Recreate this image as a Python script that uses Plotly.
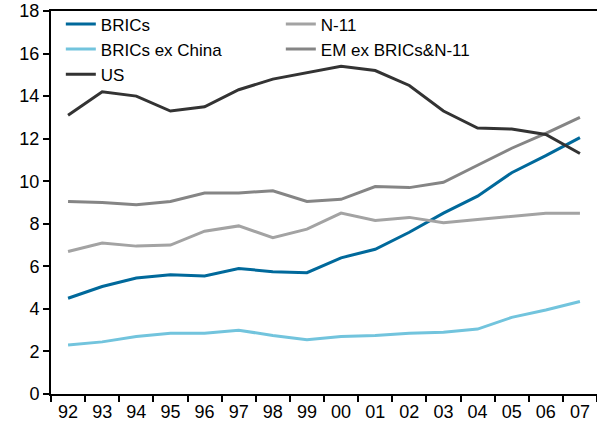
import plotly.graph_objects as go

years = ["92", "93", "94", "95", "96", "97", "98", "99",
         "00", "01", "02", "03", "04", "05", "06", "07"]

brics = [4.5, 5.05, 5.45, 5.6, 5.55, 5.9, 5.75, 5.7,
         6.4, 6.8, 7.6, 8.5, 9.3, 10.4, 11.2, 12.05]
n11 = [6.7, 7.1, 6.95, 7.0, 7.65, 7.9, 7.35, 7.75,
       8.5, 8.15, 8.3, 8.05, 8.2, 8.35, 8.5, 8.5]
brics_ex_china = [2.3, 2.45, 2.7, 2.85, 2.85, 3.0, 2.75, 2.55,
                  2.7, 2.75, 2.85, 2.9, 3.05, 3.6, 3.95, 4.35]
em_ex = [9.05, 9.0, 8.9, 9.05, 9.45, 9.45, 9.55, 9.05,
         9.15, 9.75, 9.7, 9.95, 10.75, 11.55, 12.25, 13.0]
us = [13.1, 14.2, 14.0, 13.3, 13.5, 14.3, 14.8, 15.1,
      15.4, 15.2, 14.5, 13.3, 12.5, 12.45, 12.2, 11.3]

series = [
    ("BRICs", brics, "#00699b"),
    ("N-11", n11, "#a3a3a3"),
    ("BRICs ex China", brics_ex_china, "#72c4dd"),
    ("EM ex BRICs&N-11", em_ex, "#858585"),
    ("US", us, "#333333"),
]

fig = go.Figure()
for name, vals, color in series:
    fig.add_scatter(
        x=years,
        y=vals,
        name=name,
        mode="lines",
        line=dict(color=color, width=3),
    )

fig.update_layout(
    width=597,
    height=429,
    margin=dict(l=51, r=0, t=11, b=35),
    paper_bgcolor="white",
    plot_bgcolor="white",
    font=dict(family="Liberation Sans, Arial, sans-serif", size=18, color="black"),
    showlegend=True,
    legend=dict(
        orientation="h",
        x=0.018,
        y=1.012,
        xanchor="left",
        yanchor="top",
        entrywidth=175,
        entrywidthmode="pixels",
        tracegroupgap=0,
        itemwidth=30,
        bgcolor="rgba(0,0,0,0)",
        font=dict(size=17),
    ),
    xaxis=dict(
        type="category",
        automargin=False,
        showgrid=False,
        showline=True,
        linecolor="black",
        linewidth=2,
        mirror=True,
        ticks="outside",
        ticklen=6,
        tickwidth=1.5,
        tickcolor="black",
        tickson="boundaries",
        range=[-0.5, 15.5],
    ),
    yaxis=dict(
        range=[0, 18],
        dtick=2,
        automargin=False,
        showgrid=False,
        zeroline=False,
        showline=True,
        linecolor="black",
        linewidth=2,
        ticks="outside",
        ticklen=6,
        tickwidth=1.5,
        tickcolor="black",
    ),
)

# drop the default 8px page margin so the figure sits at the window's corner
fig.write_html(
    "out.html",
    config={"displayModeBar": False},
    post_script="document.body.style.margin='0';",
)
